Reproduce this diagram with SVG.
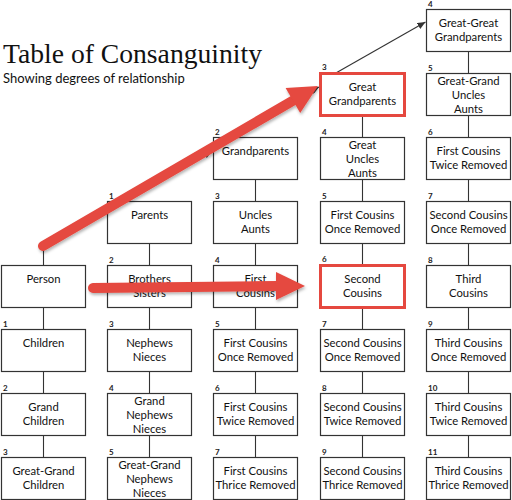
<svg xmlns="http://www.w3.org/2000/svg" width="512" height="500" viewBox="0 0 512 500">
<style>
.box{fill:#fff;stroke:#333;stroke-width:1.2}
.hl{fill:#fff;stroke:#E5483F;stroke-width:3}
.t{font-family:Lato,"Open Sans",sans-serif;font-size:11.3px;fill:#111;text-anchor:middle}
.n{font-family:Lato,"Open Sans",sans-serif;font-size:8px;font-weight:bold;fill:#222}
.c{stroke:#333;stroke-width:1.1;fill:none}
.ttl{font-family:"Liberation Serif",serif;font-size:27px;fill:#111}
.sub{font-family:Lato,"Open Sans",sans-serif;font-size:13px;fill:#111}
.red{fill:#E5483F;stroke:none}
.redl{stroke:#E5483F;stroke-width:10;stroke-linecap:round;fill:none}
</style>
<defs>
<marker id="ah" markerUnits="userSpaceOnUse" markerWidth="9" markerHeight="7" refX="8" refY="3.5" orient="auto">
<path d="M0,0 L8,3.5 L0,7 Z" fill="#333"/>
</marker>
<filter id="sh" x="-10%" y="-10%" width="130%" height="130%">
<feDropShadow dx="1" dy="2" stdDeviation="1.5" flood-color="#000" flood-opacity="0.3"/>
</filter>
</defs>
<text class="ttl" x="3" y="63" textLength="259" lengthAdjust="spacingAndGlyphs">Table of Consanguinity</text>
<text class="sub" x="3" y="83">Showing degrees of relationship</text>
<g id="connectors">
<path class="c" d="M43.5,307.5 V457.5"/>
<path class="c" d="M149.5,243.5 V457.5"/>
<path class="c" d="M255.5,179.5 V457.5"/>
<path class="c" d="M362.5,115.5 V457.5"/>
<path class="c" d="M468.5,51.5 V457.5"/>
<path class="c" d="M43.5,265.5 V249 L103,213.5"/>
<path class="c" d="M122,201.5 L212,151" marker-end="url(#ah)"/>
<path class="c" d="M228,137.5 L319,87" marker-end="url(#ah)"/>
<path class="c" d="M335,73.5 L425.5,22" marker-end="url(#ah)"/>
</g>
<!-- column 0 -->
<g id="person"><rect class="box" x="1.5" y="265.5" width="84" height="42"/><text class="t" x="43.5" y="283">Person</text></g>
<g id="children"><rect class="box" x="1.5" y="329.5" width="84" height="42"/><text class="n" x="3" y="327">1</text><text class="t" x="43.5" y="347">Children</text></g>
<g id="grandchildren"><rect class="box" x="1.5" y="393.5" width="84" height="42"/><text class="n" x="3" y="391">2</text><text class="t" x="43.5" y="411">Grand</text><text class="t" x="43.5" y="425">Children</text></g>
<g id="greatgrandchildren"><rect class="box" x="1.5" y="457.5" width="84" height="42"/><text class="n" x="3" y="455">3</text><text class="t" x="43.5" y="475">Great-Grand</text><text class="t" x="43.5" y="489">Children</text></g>
<!-- column 1 -->
<g id="parents"><rect class="box" x="107.5" y="201.5" width="84" height="42"/><text class="n" x="109" y="199">1</text><text class="t" x="149.5" y="219">Parents</text></g>
<g id="siblings"><rect class="box" x="107.5" y="265.5" width="84" height="42"/><text class="n" x="109" y="263">2</text><text class="t" x="149.5" y="283">Brothers</text><text class="t" x="149.5" y="297">Sisters</text></g>
<g id="nephews"><rect class="box" x="107.5" y="329.5" width="84" height="42"/><text class="n" x="109" y="327">3</text><text class="t" x="149.5" y="347">Nephews</text><text class="t" x="149.5" y="361">Nieces</text></g>
<g id="grandnephews"><rect class="box" x="107.5" y="393.5" width="84" height="42"/><text class="n" x="109" y="391">4</text><text class="t" x="149.5" y="405">Grand</text><text class="t" x="149.5" y="419">Nephews</text><text class="t" x="149.5" y="433">Nieces</text></g>
<g id="greatgrandnephews"><rect class="box" x="107.5" y="457.5" width="84" height="42"/><text class="n" x="109" y="455">5</text><text class="t" x="149.5" y="469">Great-Grand</text><text class="t" x="149.5" y="483">Nephews</text><text class="t" x="149.5" y="497">Nieces</text></g>
<!-- column 2 -->
<g id="grandparents"><rect class="box" x="213.5" y="137.5" width="84" height="42"/><text class="n" x="215" y="135">2</text><text class="t" x="255.5" y="155">Grandparents</text></g>
<g id="uncles"><rect class="box" x="213.5" y="201.5" width="84" height="42"/><text class="n" x="215" y="199">3</text><text class="t" x="255.5" y="219">Uncles</text><text class="t" x="255.5" y="233">Aunts</text></g>
<g id="firstcousins"><rect class="box" x="213.5" y="265.5" width="84" height="42"/><text class="n" x="215" y="263">4</text><text class="t" x="255.5" y="283">First</text><text class="t" x="255.5" y="297">Cousins</text></g>
<g id="fc1r-down"><rect class="box" x="213.5" y="329.5" width="84" height="42"/><text class="n" x="215" y="327">5</text><text class="t" x="255.5" y="347">First Cousins</text><text class="t" x="255.5" y="361">Once Removed</text></g>
<g id="fc2r-down"><rect class="box" x="213.5" y="393.5" width="84" height="42"/><text class="n" x="215" y="391">6</text><text class="t" x="255.5" y="411">First Cousins</text><text class="t" x="255.5" y="425">Twice Removed</text></g>
<g id="fc3r-down"><rect class="box" x="213.5" y="457.5" width="84" height="42"/><text class="n" x="215" y="455">7</text><text class="t" x="255.5" y="475">First Cousins</text><text class="t" x="255.5" y="489">Thrice Removed</text></g>
<!-- column 3 -->
<g id="greatgrandparents"><rect class="hl" x="320.5" y="73.5" width="84" height="42"/><text class="n" x="322" y="70">3</text><text class="t" x="362.5" y="91">Great</text><text class="t" x="362.5" y="105">Grandparents</text></g>
<g id="greatuncles"><rect class="box" x="320.5" y="137.5" width="84" height="42"/><text class="n" x="322" y="135">4</text><text class="t" x="362.5" y="149">Great</text><text class="t" x="362.5" y="163">Uncles</text><text class="t" x="362.5" y="177">Aunts</text></g>
<g id="fc1r-up"><rect class="box" x="320.5" y="201.5" width="84" height="42"/><text class="n" x="322" y="199">5</text><text class="t" x="362.5" y="219">First Cousins</text><text class="t" x="362.5" y="233">Once Removed</text></g>
<g id="secondcousins"><rect class="hl" x="320.5" y="265.5" width="84" height="42"/><text class="n" x="322" y="262">6</text><text class="t" x="362.5" y="283">Second</text><text class="t" x="362.5" y="297">Cousins</text></g>
<g id="sc1r-down"><rect class="box" x="320.5" y="329.5" width="84" height="42"/><text class="n" x="322" y="327">7</text><text class="t" x="362.5" y="347">Second Cousins</text><text class="t" x="362.5" y="361">Once Removed</text></g>
<g id="sc2r-down"><rect class="box" x="320.5" y="393.5" width="84" height="42"/><text class="n" x="322" y="391">8</text><text class="t" x="362.5" y="411">Second Cousins</text><text class="t" x="362.5" y="425">Twice Removed</text></g>
<g id="sc3r-down"><rect class="box" x="320.5" y="457.5" width="84" height="42"/><text class="n" x="322" y="455">9</text><text class="t" x="362.5" y="475">Second Cousins</text><text class="t" x="362.5" y="489">Thrice Removed</text></g>
<!-- column 4 -->
<g id="greatgreatgrandparents"><rect class="box" x="426.5" y="9.5" width="84" height="42"/><text class="n" x="428" y="7">4</text><text class="t" x="468.5" y="27">Great-Great</text><text class="t" x="468.5" y="41">Grandparents</text></g>
<g id="greatgranduncles"><rect class="box" x="426.5" y="73.5" width="84" height="42"/><text class="n" x="428" y="71">5</text><text class="t" x="468.5" y="85">Great-Grand</text><text class="t" x="468.5" y="99">Uncles</text><text class="t" x="468.5" y="113">Aunts</text></g>
<g id="fc2r-up"><rect class="box" x="426.5" y="137.5" width="84" height="42"/><text class="n" x="428" y="135">6</text><text class="t" x="468.5" y="155">First Cousins</text><text class="t" x="468.5" y="169">Twice Removed</text></g>
<g id="sc1r-up"><rect class="box" x="426.5" y="201.5" width="84" height="42"/><text class="n" x="428" y="199">7</text><text class="t" x="468.5" y="219">Second Cousins</text><text class="t" x="468.5" y="233">Once Removed</text></g>
<g id="thirdcousins"><rect class="box" x="426.5" y="265.5" width="84" height="42"/><text class="n" x="428" y="263">8</text><text class="t" x="468.5" y="283">Third</text><text class="t" x="468.5" y="297">Cousins</text></g>
<g id="tc1r"><rect class="box" x="426.5" y="329.5" width="84" height="42"/><text class="n" x="428" y="327">9</text><text class="t" x="468.5" y="347">Third Cousins</text><text class="t" x="468.5" y="361">Once Removed</text></g>
<g id="tc2r"><rect class="box" x="426.5" y="393.5" width="84" height="42"/><text class="n" x="428" y="391">10</text><text class="t" x="468.5" y="411">Third Cousins</text><text class="t" x="468.5" y="425">Twice Removed</text></g>
<g id="tc3r"><rect class="box" x="426.5" y="457.5" width="84" height="42"/><text class="n" x="428" y="455">11</text><text class="t" x="468.5" y="475">Third Cousins</text><text class="t" x="468.5" y="489">Thrice Removed</text></g>
<g id="red-arrows" filter="url(#sh)">
<path class="redl" d="M43,246 L293,100.6"/>
<path class="red" d="M318,86 L300.2,113.1 L285.6,88.1 Z"/>
<path class="redl" d="M93,288 L278,286"/>
<path class="red" d="M305,286 L276,300 L276,272 Z"/>
</g>
</svg>
